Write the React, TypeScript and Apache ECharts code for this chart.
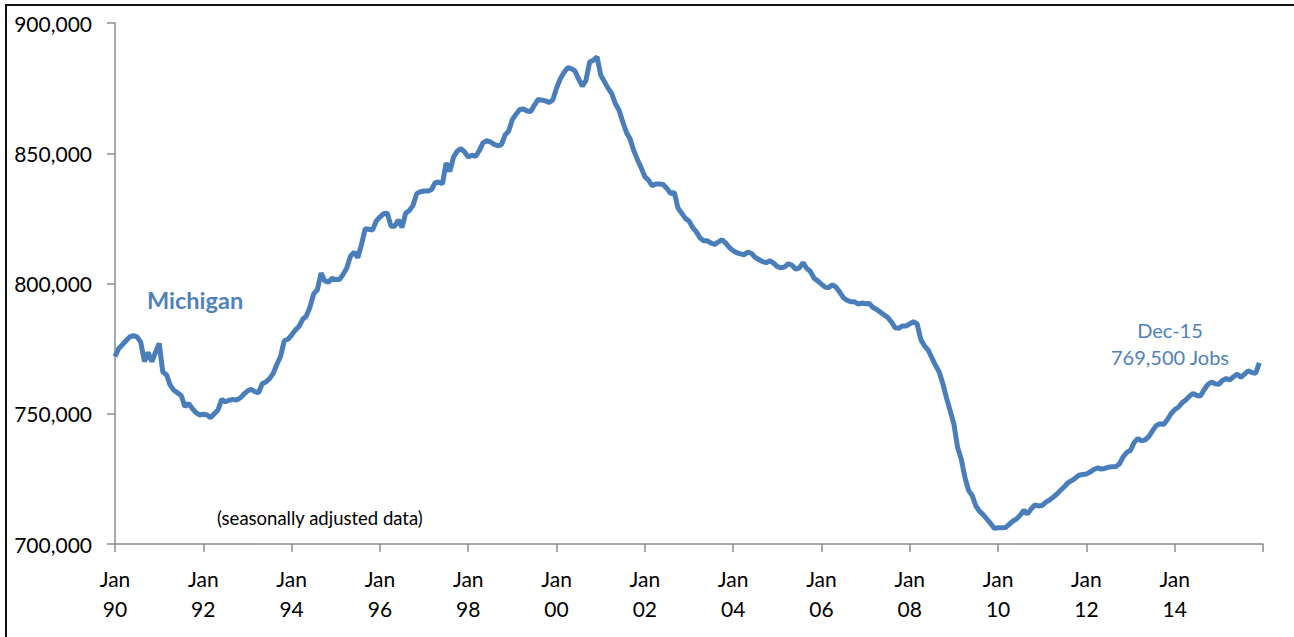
import React, { useEffect, useRef } from "react";
import * as echarts from "echarts";

// Michigan payroll jobs (thousands), seasonally adjusted, one row per year, Jan..Dec
const jobs1990 = [772, 775, 776.5, 778, 779.5, 780, 779.5, 777.5, 770, 773.5, 770, 773.5];
const jobs1991 = [777, 766, 765, 761, 759, 758, 757, 752.7, 754, 752, 750.5, 749.5];
const jobs1992 = [749.8, 749.5, 748.5, 750, 751.5, 755.5, 754.6, 755.2, 755.5, 755.3, 756, 757.5];
const jobs1993 = [758.7, 759.4, 758.5, 758, 761.5, 762.2, 763.5, 765.5, 769, 772, 778, 778.6];
const jobs1994 = [780.2, 782.1, 783.5, 786.2, 787.5, 791, 796, 797.6, 804, 801, 800.5, 802];
const jobs1995 = [801.5, 801.5, 803.5, 806, 810.5, 812, 810, 815, 821, 820.8, 820.5, 824];
const jobs1996 = [825.5, 826.8, 827, 822, 822, 824.4, 821.5, 827, 828, 830, 834.5, 835.2];
const jobs1997 = [835.5, 835.5, 836, 838.7, 839, 838.3, 846.3, 843, 848.5, 850.8, 851.8, 850.5];
const jobs1998 = [848.5, 849.3, 848.8, 851, 854, 854.8, 854.4, 853.4, 852.9, 853.2, 857, 858.5];
const jobs1999 = [863, 865, 866.8, 867, 866.2, 866, 868.5, 870.7, 870.4, 870.1, 869.5, 870.5];
const jobs2000 = [875, 878.5, 881, 882.8, 882.5, 881.6, 878.5, 875.8, 878, 885, 885.7, 887];
const jobs2001 = [880, 877.5, 875, 872.9, 869, 866.5, 862, 858, 855.5, 851, 847.5, 844.5];
const jobs2002 = [841, 839.7, 837.5, 838.2, 838.2, 838, 836.5, 834.5, 835, 829, 827, 825];
const jobs2003 = [824, 821.5, 819.8, 817.5, 816.4, 816.4, 815.5, 815, 816, 816.8, 815.5, 813.8];
const jobs2004 = [812.6, 811.8, 811.4, 811, 812.1, 811.5, 810, 809.2, 808.4, 808, 808.7, 807.8];
const jobs2005 = [806.5, 806, 806.4, 807.6, 807, 805.5, 806, 808, 805.8, 804.6, 802, 801];
const jobs2006 = [799.7, 798.6, 798.5, 799.5, 798.5, 796.6, 794.5, 793.5, 793, 793, 792.1, 792.5];
const jobs2007 = [792.2, 792.3, 790.8, 790, 789, 788, 787, 785.3, 783, 782.8, 783.7, 783.7];
const jobs2008 = [784.5, 785.3, 784.5, 778.5, 776, 774.4, 771.5, 768.5, 766, 761.5, 756, 751];
const jobs2009 = [746, 737, 732.5, 725.5, 720.5, 718.5, 714.5, 712.5, 711.2, 709.5, 707.8, 706];
const jobs2010 = [706.2, 706.2, 706.3, 707.5, 708.8, 709.6, 711, 713, 711.5, 713.5, 715, 714.6];
const jobs2011 = [714.8, 716.1, 716.9, 718, 719.2, 720.6, 722, 723.5, 724.3, 725.3, 726.4, 726.7];
const jobs2012 = [726.9, 727.6, 728.6, 729.2, 728.8, 729, 729.5, 729.7, 729.7, 730.8, 733.5, 735.2];
const jobs2013 = [736, 739, 740.5, 739.6, 740, 741.3, 743.5, 745.5, 746.2, 745.9, 747.7, 750];
const jobs2014 = [751.6, 752.5, 754.2, 755.3, 756.7, 757.8, 757, 756.8, 759.2, 761.2, 762.2, 761.5];
const jobs2015 = [761.3, 762.8, 763.5, 763, 764.2, 765.2, 764, 765.2, 766.5, 765.8, 765.5, 769.5];

const xTickLabels = [
  "Jan\n90", "Jan\n92", "Jan\n94", "Jan\n96", "Jan\n98", "Jan\n00", "Jan\n02",
  "Jan\n04", "Jan\n06", "Jan\n08", "Jan\n10", "Jan\n12", "Jan\n14", "",
];
const yTickLabels = ["700,000", "750,000", "800,000", "850,000", "900,000"];

const seriesName = "Michigan";
const endLabel = ["Dec-15", "769,500 Jobs"];
const noteLabel = "(seasonally adjusted data)";

export default function App() {
  const ref = useRef<HTMLDivElement>(null);
  useEffect(() => {
    if (!ref.current) return;
    const chart = echarts.init(ref.current, null, { renderer: "svg" });
    const years = [
      jobs1990, jobs1991, jobs1992, jobs1993, jobs1994, jobs1995, jobs1996, jobs1997,
      jobs1998, jobs1999, jobs2000, jobs2001, jobs2002, jobs2003, jobs2004, jobs2005,
      jobs2006, jobs2007, jobs2008, jobs2009, jobs2010, jobs2011, jobs2012, jobs2013,
      jobs2014, jobs2015,
    ];
    const data: [number, number][] = [];
    years.forEach((row, yi) => {
      row.forEach((v, mi) => data.push([yi * 12 + mi, Math.round(v * 1000)]));
    });
    const font = "Lato, 'Open Sans', sans-serif";
    const axisColor = "#8c8c8c";
    chart.setOption({
      animation: false,
      backgroundColor: "#ffffff",
      grid: { left: 115, right: 31, top: 23, bottom: 93, containLabel: false },
      xAxis: {
        type: "value",
        min: 0,
        max: 312,
        interval: 24,
        splitLine: { show: false },
        axisLine: { show: true, lineStyle: { color: axisColor, width: 1.5 } },
        axisTick: { show: true, length: 8, lineStyle: { color: axisColor, width: 1.5 } },
        axisLabel: {
          margin: 19,
          color: "#000",
          fontFamily: font,
          fontSize: 21,
          lineHeight: 30,
          formatter: (v: number) => xTickLabels[Math.round(v / 24)] ?? "",
        },
      },
      yAxis: {
        type: "value",
        min: 700000,
        max: 900000,
        interval: 50000,
        splitLine: { show: false },
        axisLine: { show: true, lineStyle: { color: axisColor, width: 1.5 } },
        axisTick: { show: true, length: 8, lineStyle: { color: axisColor, width: 1.5 } },
        axisLabel: {
          margin: 23,
          color: "#000",
          fontFamily: font,
          fontSize: 21,
          formatter: (v: number) => yTickLabels[Math.round((v - 700000) / 50000)] ?? "",
        },
      },
      series: [
        {
          name: seriesName,
          type: "line",
          data,
          showSymbol: false,
          symbol: "none",
          lineStyle: { color: "#4a7ebb", width: 5 },
        },
      ],
      graphic: [
        {
          type: "rect",
          shape: { x: 6, y: 5, width: 1400, height: 800 },
          style: { fill: "none", stroke: "#111", lineWidth: 2 },
          silent: true,
        },
        {
          type: "text",
          x: 147,
          y: 300,
          style: {
            text: seriesName,
            fill: "#4f81bd",
            font: `bold 23.5px ${font}`,
            textVerticalAlign: "middle",
          },
        },
        {
          type: "text",
          x: 1170,
          y: 330,
          style: {
            text: endLabel[0],
            fill: "#4f81bd",
            font: `20px ${font}`,
            textAlign: "center",
            textVerticalAlign: "middle",
          },
        },
        {
          type: "text",
          x: 1170,
          y: 357,
          style: {
            text: endLabel[1],
            fill: "#4f81bd",
            font: `20px ${font}`,
            textAlign: "center",
            textVerticalAlign: "middle",
          },
        },
        {
          type: "text",
          x: 217,
          y: 518,
          style: {
            text: noteLabel,
            fill: "#000",
            font: `18.5px ${font}`,
            textVerticalAlign: "middle",
          },
        },
      ],
    });
    return () => chart.dispose();
  }, []);
  return (
    <div
      ref={ref}
      style={{ position: "absolute", left: 0, top: 0, width: 1294, height: 637 }}
    />
  );
}
